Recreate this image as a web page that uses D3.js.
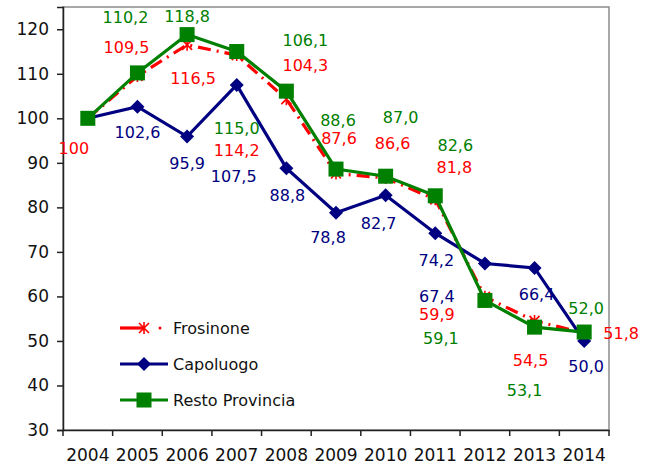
<!DOCTYPE html>
<html>
<head>
<meta charset="utf-8">
<script src="https://cdn.jsdelivr.net/npm/d3@7"></script>
<style>
  body { margin: 0; background: #fff; }
  svg text { font-family: "DejaVu Sans", Verdana, sans-serif; }
</style>
</head>
<body>
<svg id="chart" width="648" height="471"></svg>
<script>
const years = ["2004","2005","2006","2007","2008","2009","2010","2011","2012","2013","2014"];
const frosinone = [100, 109.5, 116.5, 114.2, 104.3, 87.6, 86.6, 81.8, 59.9, 54.5, 51.8];
const capoluogo = [100, 102.6, 95.9, 107.5, 88.8, 78.8, 82.7, 74.2, 67.4, 66.4, 50.0];
const resto = [100, 110.2, 118.8, 115.0, 106.1, 88.6, 87.0, 82.6, 59.1, 53.1, 52.0];
const yTicks = [30, 40, 50, 60, 70, 80, 90, 100, 110, 120];

// label offsets (px) from each point, null = no label
const frosinoneLabelPos = [[-14,30],[-11,-29],[6,34],[0,95],[19,-34],[3,-35],[7,-34],[19,-32],[-48,18],[-4,40],[37,1]];
const capoluogoLabelPos = [null,[0,26],[0,27],[-3,92],[1,27],[-8,25],[-7,28],[1,27],[-48,33],[2,27],[2,26]];
const restoLabelPos = [null,[-12,-55],[0,-18],[0,77],[19,-51],[2,-49],[15,-59],[20,-50],[-44,38],[-10,63],[2,-24]];

const margin = {left: 63, top: 7, right: 39, bottom: 41};
const width = 648 - margin.left - margin.right;
const height = 471 - margin.top - margin.bottom;

const svg = d3.select("#chart");
const g = svg.append("g").attr("transform", `translate(${margin.left},${margin.top})`);

const x = d3.scaleBand().domain(years).range([0, width]);
const y = d3.scaleLinear().domain([30, 125]).range([height, 0]);
const cx = d => x(d) + x.bandwidth() / 2;

// plot border
g.append("rect")
  .attr("width", width).attr("height", height)
  .attr("fill", "none").attr("stroke", "#8c8c8c").attr("stroke-width", 1.5);

// axes
const yAxis = g.append("g")
  .call(d3.axisLeft(y).tickValues(yTicks).tickSize(6).tickPadding(8).tickFormat(d3.format("d")));
yAxis.select(".domain").attr("stroke", "#222").attr("stroke-width", 1.5);
yAxis.selectAll(".tick line").attr("stroke", "#222").attr("stroke-width", 1.5);
yAxis.selectAll("text").attr("font-size", 17).attr("fill", "#111");

const xAxis = g.append("g")
  .attr("transform", `translate(0,${height})`)
  .call(d3.axisBottom(x).tickSize(0).tickPadding(19));
xAxis.select(".domain").attr("stroke", "#222").attr("stroke-width", 1.5);
xAxis.selectAll("text").attr("font-size", 17).attr("fill", "#111");
// tick marks at band edges
g.append("g").selectAll("line")
  .data(years.concat(["end"]))
  .join("line")
  .attr("x1", (d, i) => i * x.step()).attr("x2", (d, i) => i * x.step())
  .attr("y1", height).attr("y2", height + 6)
  .attr("stroke", "#222").attr("stroke-width", 1.5);

const series = [
  {name: "Frosinone", values: frosinone, color: "#ff0000", dash: "13,6,2,6", marker: "star", labels: frosinoneLabelPos},
  {name: "Capoluogo", values: capoluogo, color: "#000080", dash: null, marker: "diamond", labels: capoluogoLabelPos},
  {name: "Resto Provincia", values: resto, color: "#008000", dash: null, marker: "square", labels: restoLabelPos}
];

const line = d3.line().x((d, i) => cx(years[i])).y(d => y(d));

function drawMarker(sel, type, color) {
  if (type === "star") {
    sel.append("path")
      .attr("d", "M-5,-5L5,5M-5,5L5,-5M0,-6L0,6")
      .attr("stroke", color).attr("stroke-width", 1.6).attr("fill", "none");
  } else if (type === "diamond") {
    sel.append("path").attr("d", "M0,-7L7,0L0,7L-7,0Z").attr("fill", color);
  } else {
    sel.append("rect").attr("x", -7.5).attr("y", -7.5).attr("width", 15).attr("height", 15).attr("fill", color);
  }
}

series.forEach(s => {
  g.append("path")
    .datum(s.values)
    .attr("d", line)
    .attr("fill", "none")
    .attr("stroke", s.color)
    .attr("stroke-width", 3.2)
    .attr("stroke-dasharray", s.dash);
  s.values.forEach((v, i) => {
    const m = g.append("g").attr("transform", `translate(${cx(years[i])},${y(v)})`);
    drawMarker(m, s.marker, s.color);
  });
});

// data labels
const fmt = (v, i) => i === 0 ? "100" : d3.format(".1f")(v).replace(".", ",");
series.forEach(s => {
  s.values.forEach((v, i) => {
    const p = s.labels[i];
    if (!p) return;
    g.append("text")
      .attr("x", cx(years[i]) + p[0])
      .attr("y", y(v) + p[1])
      .attr("text-anchor", "middle")
      .attr("dominant-baseline", "central")
      .attr("font-size", 16)
      .attr("fill", s.color)
      .text(fmt(v, i));
  });
});

// legend
const legend = svg.append("g").attr("transform", "translate(120,328)");
series.forEach((s, i) => {
  const row = legend.append("g").attr("transform", `translate(0,${i * 36})`);
  if (s.dash) {
    row.append("line").attr("x1", 0).attr("x2", 24).attr("stroke", s.color).attr("stroke-width", 3.2);
    row.append("circle").attr("cx", 40).attr("cy", 0).attr("r", 1.5).attr("fill", s.color);
  } else {
    row.append("line").attr("x1", 0).attr("x2", 48).attr("stroke", s.color).attr("stroke-width", 3.2);
  }
  drawMarker(row.append("g").attr("transform", "translate(24,0)"), s.marker, s.color);
  row.append("text")
    .attr("x", 53).attr("y", 0)
    .attr("dominant-baseline", "central")
    .attr("font-size", 16)
    .attr("fill", "#111")
    .text(s.name);
});
</script>
</body>
</html>
